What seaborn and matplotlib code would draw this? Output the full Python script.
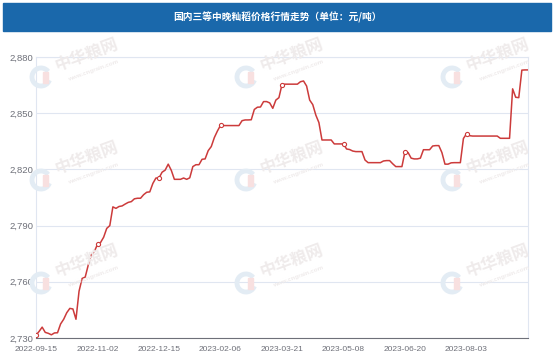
import matplotlib
matplotlib.use('Agg')
import matplotlib.pyplot as plt
import seaborn as sns
import pandas as pd
from matplotlib.patches import Rectangle, Arc

title = '国内三等中晚籼稻价格行情走势（单位：元/吨）'

# category labels shown on the x axis (every 20th point)
tick_labels = ['2022-09-15', '2022-11-02', '2022-12-15', '2023-02-06',
               '2023-03-21', '2023-05-08', '2023-06-20', '2023-08-03']
y_ticks = [2730, 2760, 2790, 2820, 2850, 2880]

# price per point (yuan / ton)
prices = [
    2731.5, 2733.5, 2735.8, 2733.0, 2732.5, 2731.7, 2732.7, 2732.8, 2737.5, 2740.0,
    2743.5, 2745.8, 2745.5, 2740.0, 2755.0, 2761.8, 2762.5, 2769.0, 2774.5, 2776.3,
    2780.0, 2781.0, 2783.8, 2788.5, 2790.0, 2800.0, 2799.2, 2800.2, 2800.5, 2801.5,
    2802.4, 2802.8, 2804.3, 2804.6, 2804.6, 2806.5, 2807.8, 2808.0, 2812.5, 2815.4,
    2815.4, 2818.5, 2819.6, 2822.8, 2819.5, 2814.7, 2814.7, 2814.7, 2815.4, 2814.7,
    2815.5, 2821.5, 2822.5, 2822.5, 2825.4, 2825.6, 2830.0, 2832.2, 2837.0, 2840.5,
    2843.5, 2843.4, 2843.4, 2843.4, 2843.4, 2843.4, 2843.4, 2846.0, 2846.4, 2846.4,
    2846.5, 2852.0, 2853.2, 2853.3, 2856.2, 2856.2, 2855.5, 2852.6, 2857.0, 2858.3,
    2865.3, 2865.5, 2865.5, 2865.5, 2865.5, 2865.5, 2866.8, 2867.2, 2864.5, 2857.0,
    2854.6, 2849.0, 2845.0, 2835.7, 2835.7, 2835.7, 2835.7, 2833.6, 2833.6, 2833.6,
    2833.6, 2830.9, 2830.6, 2829.8, 2829.5, 2829.5, 2829.5, 2825.0, 2823.6, 2823.6,
    2823.6, 2823.6, 2823.6, 2824.5, 2824.7, 2824.7, 2823.0, 2821.5, 2821.5, 2821.5,
    2829.5, 2829.0, 2826.0, 2825.6, 2825.6, 2826.0, 2830.5, 2830.5, 2830.5, 2832.5,
    2832.7, 2832.7, 2829.0, 2822.8, 2822.8, 2823.5, 2823.6, 2823.6, 2823.6, 2836.5,
    2839.0, 2838.0, 2837.8, 2837.8, 2837.8, 2837.8, 2837.8, 2837.8, 2837.8, 2837.8,
    2837.8, 2836.6, 2836.6, 2836.6, 2836.6, 2863.0, 2858.5, 2858.3, 2873.0, 2873.1,
    2873.1,
]

df = pd.DataFrame({'idx': range(len(prices)), 'price': prices})
step = 20
marks = df.iloc[0:len(tick_labels) * step:step]

sns.set_style('white')
plt.rcParams['font.family'] = ['Liberation Sans', 'Noto Sans CJK SC', 'DejaVu Sans']

fig = plt.figure(figsize=(5.54, 3.59), dpi=100)
ax = fig.add_axes([36 / 554, 1 - 338 / 359, 492 / 554, 281 / 359])

line_color = '#cc3b3b'
sns.lineplot(data=df, x='idx', y='price', color=line_color, linewidth=1.1, ax=ax, zorder=3)
sns.scatterplot(data=marks, x='idx', y='price', marker='o', s=9, color='white',
                edgecolor=line_color, linewidth=0.8, ax=ax, zorder=4)

ax.set_xlim(0, len(prices) - 1)
ax.set_ylim(y_ticks[0], y_ticks[-1])
ax.set_yticks(y_ticks)
ax.set_yticklabels([f'{v:,}' for v in y_ticks])
ax.set_xticks(list(range(0, len(prices), step)))
ax.set_xticklabels(tick_labels + [''])
ax.set_xlabel('')
ax.set_ylabel('')

ax.yaxis.grid(True, color='#e0e6f1', linewidth=0.8)
ax.xaxis.grid(False)
for side in ['left', 'right', 'top']:
    ax.spines[side].set_color('#e0e6f1')
    ax.spines[side].set_linewidth(0.8)
ax.spines['bottom'].set_color('#6e7079')
ax.spines['bottom'].set_linewidth(0.8)
ax.tick_params(axis='y', length=0, pad=2, labelsize=6.8, labelcolor='#6e7079')
ax.tick_params(axis='x', length=3, width=0.8, color='#6e7079', pad=2.5,
               labelsize=6.0, labelcolor='#6e7079')

# blue title bar
fig.patches.append(Rectangle((3 / 554, 1 - 31 / 359), 548 / 554, 28 / 359,
                             transform=fig.transFigure, color='#1a68ab', zorder=0))
fig.text(0.5, 1 - 17.5 / 359, title, color='white', fontsize=7, weight='bold',
         ha='center', va='center', family=['Noto Sans CJK SC', 'DejaVu Sans'])

# faint site watermarks (logo drawn as shapes, site name as rotated text)
for wx in [41, 246, 452]:
    for wy in [77, 180, 283]:
        fig.patches.append(Arc((wx / 554, 1 - wy / 359), 18 / 554, 18 / 359,
                               theta1=50, theta2=330, transform=fig.transFigure,
                               color='#e3ecf4', linewidth=3.5, zorder=1))
        fig.patches.append(Rectangle(((wx + 2) / 554, 1 - (wy + 6) / 359), 5 / 554, 11 / 359,
                                     transform=fig.transFigure, color='#f8e0e0', zorder=1))
        fig.text((wx + 46) / 554, 1 - (wy - 22) / 359, '中华粮网', color='#efebeb',
                 fontsize=12, weight='bold', rotation=20, ha='center', va='center',
                 family=['Noto Sans CJK SC', 'DejaVu Sans'], zorder=1)
        fig.text((wx + 52) / 554, 1 - (wy - 6) / 359, 'www.cngrain.com', color='#efebeb',
                 fontsize=4.5, weight='bold', rotation=20, ha='center', va='center', zorder=1)

plt.savefig('out.png', dpi=100)
